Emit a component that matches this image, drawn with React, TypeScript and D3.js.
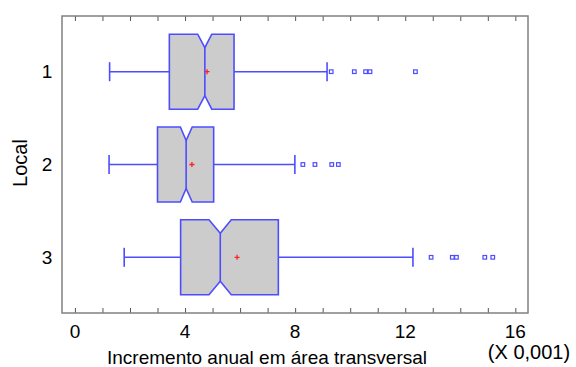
import React, { useEffect, useRef } from 'react';
import * as d3 from 'd3';

// values, in units of 0.001
const locais = ['1', '2', '3'];
const whiskerLow = [1.26, 1.24, 1.79];
const q1 = [3.43, 3.0, 3.84];
const notchLow = [4.46, 3.83, 4.87];
const median = [4.72, 4.04, 5.28];
const notchHigh = [4.97, 4.26, 5.68];
const q3 = [5.78, 5.04, 7.39];
const whiskerHigh = [9.16, 7.99, 12.28];
const mean = [4.8, 4.25, 5.89];
const outliers = [
  [9.31, 10.15, 10.56, 10.72, 12.37],
  [8.28, 8.72, 9.33, 9.57],
  [12.94, 13.71, 13.86, 14.89, 15.18],
];
const xTickLabels = [0, 4, 8, 12, 16];

const W = 576;
const H = 367;

export default function App() {
  const svgRef = useRef<SVGSVGElement>(null);

  useEffect(() => {
    const left = 62, right = 528, top = 16, bottom = 313;
    const x = d3.scaleLinear().domain([-0.47, 16.46]).range([left, right]);
    const y = d3.scaleLinear().domain([0.4, 3.6]).range([top, bottom]);

    const svg = d3.select(svgRef.current);
    svg.selectAll('*').remove();

    const blue = '#4d4dff';
    const boxHalf = 37.5;
    const notchDepth = 13.5;
    const capHalf = 9.5;

    locais.forEach((loc, i) => {
      const cy = y(i + 1);
      const g = svg.append('g');

      g.append('line')
        .attr('x1', x(whiskerLow[i])).attr('x2', x(q1[i]))
        .attr('y1', cy).attr('y2', cy)
        .attr('stroke', blue).attr('stroke-width', 1.6);
      g.append('line')
        .attr('x1', x(q3[i])).attr('x2', x(whiskerHigh[i]))
        .attr('y1', cy).attr('y2', cy)
        .attr('stroke', blue).attr('stroke-width', 1.6);
      [whiskerLow[i], whiskerHigh[i]].forEach((v) => {
        g.append('line')
          .attr('x1', x(v)).attr('x2', x(v))
          .attr('y1', cy - capHalf).attr('y2', cy + capHalf)
          .attr('stroke', blue).attr('stroke-width', 1.6);
      });

      const t = cy - boxHalf, b = cy + boxHalf;
      const pts: [number, number][] = [
        [x(q1[i]), t], [x(notchLow[i]), t], [x(median[i]), t + notchDepth],
        [x(notchHigh[i]), t], [x(q3[i]), t], [x(q3[i]), b],
        [x(notchHigh[i]), b], [x(median[i]), b - notchDepth], [x(notchLow[i]), b],
        [x(q1[i]), b],
      ];
      g.append('path')
        .attr('d', d3.line()(pts) + 'Z')
        .attr('fill', '#cccccc')
        .attr('stroke', blue).attr('stroke-width', 1.6);
      g.append('line')
        .attr('x1', x(median[i])).attr('x2', x(median[i]))
        .attr('y1', t + notchDepth).attr('y2', b - notchDepth)
        .attr('stroke', blue).attr('stroke-width', 1.6);

      // mean
      const mx = x(mean[i]);
      g.append('path')
        .attr('d', `M${mx - 2.5},${cy}H${mx + 2.5}M${mx},${cy - 2.5}V${cy + 2.5}`)
        .attr('stroke', '#ff2020').attr('stroke-width', 1.3);

      g.selectAll('rect.out')
        .data(outliers[i])
        .enter()
        .append('rect')
        .attr('x', (d) => x(d) - 1.8).attr('y', cy - 1.8)
        .attr('width', 3.6).attr('height', 3.6)
        .attr('fill', 'white').attr('stroke', blue).attr('stroke-width', 1.2);

      svg.append('text')
        .attr('x', 47).attr('y', cy + 6.5)
        .attr('text-anchor', 'middle')
        .attr('font-size', 19)
        .text(loc);
    });

    // tick marks inside the frame, top and bottom
    const ticks = d3.range(0, 17);
    const bottomAxis = d3.axisBottom(x).tickValues(ticks).tickSize(-5).tickFormat(() => '');
    const topAxis = d3.axisTop(x).tickValues(ticks).tickSize(-5).tickFormat(() => '');
    const ga = svg.append('g').attr('transform', `translate(0,${bottom})`).call(bottomAxis);
    const gt = svg.append('g').attr('transform', `translate(0,${top})`).call(topAxis);
    [ga, gt].forEach((a) => {
      a.select('.domain').remove();
      a.selectAll('line').attr('stroke', '#555').attr('stroke-width', 1);
    });

    svg.append('rect')
      .attr('x', left).attr('y', top)
      .attr('width', right - left).attr('height', bottom - top)
      .attr('fill', 'none').attr('stroke', '#808080').attr('stroke-width', 1.5);

    svg.selectAll('text.xt')
      .data(xTickLabels)
      .enter()
      .append('text')
      .attr('x', (d) => x(d)).attr('y', 338)
      .attr('text-anchor', 'middle')
      .attr('font-size', 19)
      .text((d) => d);

    svg.append('text')
      .attr('x', 267).attr('y', 364)
      .attr('text-anchor', 'middle')
      .attr('font-size', 19)
      .text('Incremento anual em área transversal');
    svg.append('text')
      .attr('x', 529).attr('y', 359)
      .attr('text-anchor', 'middle')
      .attr('font-size', 20)
      .text('(X 0,001)');
    svg.append('text')
      .attr('transform', `translate(27,163) rotate(-90)`)
      .attr('text-anchor', 'middle')
      .attr('font-size', 20)
      .text('Local');
  }, []);

  return (
    <svg
      ref={svgRef}
      width={W}
      height={H}
      style={{ position: 'absolute', left: 0, top: 0, fontFamily: 'Arial, "Liberation Sans", sans-serif', background: 'white' }}
    />
  );
}
